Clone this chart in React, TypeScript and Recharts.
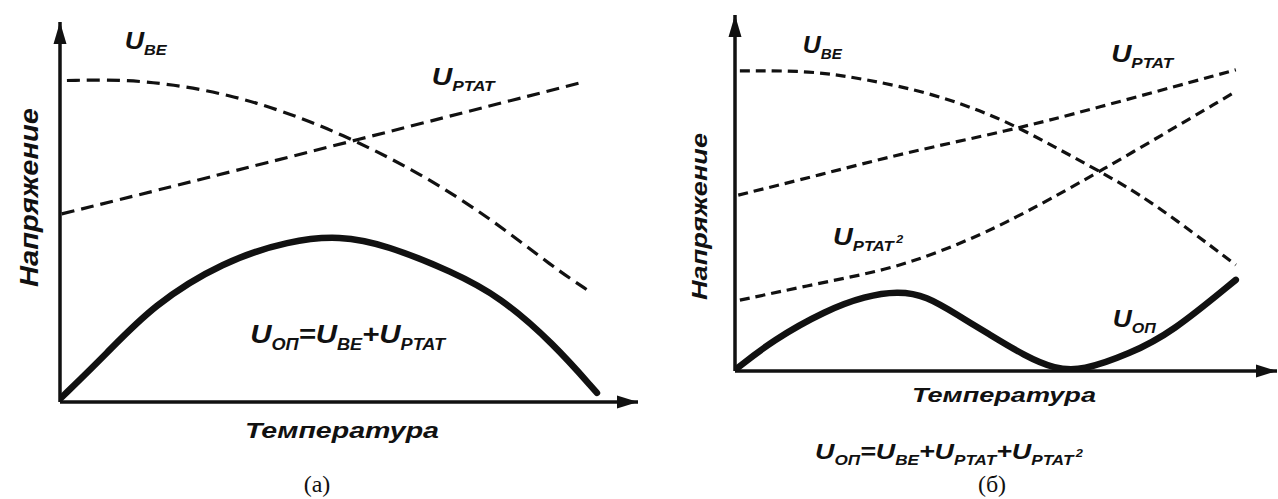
import React from "react"
import { LineChart, Line, XAxis, YAxis, ReferenceDot } from "recharts"

// Both plots use arbitrary units: temperature 0..100 across, voltage 0..100 up.
const tempTicks = [16.5, 36, 56, 75.5]
const voltTicks = [13.2, 41.3, 68.5]

// (a) first-order compensation
const ubeA = [[1.2, 84.6], [10.4, 84.9], [19.6, 83.6], [29.4, 80.8], [38.1, 76.8], [48.4, 70.8], [62.3, 60.3], [74.9, 47.9], [85.3, 35.5], [91.7, 29.0]]
const ptatA = [[0.3, 49.5], [31.1, 61.1], [90.8, 84.3]]
const uopA = [[0, 0.8], [8.1, 12.8], [16.1, 25.5], [28.2, 37], [39.8, 42.5], [48.4, 43.8], [56.5, 41.3], [68, 34.2], [76.1, 27.7], [85.3, 15.5], [92.9, 2.4]]

// (б) second-order compensation
const ubeB = [[0.9, 84.3], [14, 84.4], [24.3, 81.9], [36.5, 78], [48.9, 71.1], [57.7, 64], [66.8, 56.5], [76.6, 48], [92.4, 29.8]]
const ptatB = [[0.6, 49.4], [15.7, 55.1], [31, 61.2], [50.5, 67.5], [65.3, 73.3], [92.4, 84.6]]
const ptat2B = [[0.9, 19.9], [15.7, 24.7], [28, 28.4], [37.2, 33.1], [48.9, 40.5], [66.8, 55.5], [92.4, 78.5]]
const uopB = [[0, 0.3], [7, 8.7], [16.9, 17.1], [24, 21], [30, 22.4], [35.2, 21.2], [41.5, 15.3], [46.5, 10.7], [53.5, 4.2], [59, 0.6], [64, 0], [72.9, 4.9], [80.4, 10.6], [92.4, 25.6]]

const toPoints = (arr: number[][]) => arr.map(([t, u]) => ({ t, u }))

type Piece = { t: string; sub?: string; sup?: string }
const lblUbe: Piece[] = [{ t: "U", sub: "BE" }]
const lblPtat: Piece[] = [{ t: "U", sub: "PTAT" }]
const lblPtat2: Piece[] = [{ t: "U", sub: "PTAT", sup: "2" }]
const lblUop: Piece[] = [{ t: "U", sub: "ОП" }]
const sumA: Piece[] = [{ t: "U", sub: "ОП" }, { t: "=U", sub: "BE" }, { t: "+U", sub: "PTAT" }]
const sumB: Piece[] = [...sumA, { t: "+U", sub: "PTAT", sup: "2" }]

const SANS = "'Liberation Sans', Arial, Helvetica, sans-serif"
const SERIF = "'Liberation Serif', 'Times New Roman', serif"
const INK = "#111"

// U with subscripts, stretched to a given width
function MathText({ x, y, pieces, size, subSize, width }: any) {
  const drop = Math.round(subSize * 0.45)
  let off = 0
  const spans: React.ReactNode[] = []
  pieces.forEach((p: Piece, i: number) => {
    spans.push(<tspan key={`m${i}`} dy={-off} fontSize={size}>{p.t}</tspan>)
    off = 0
    if (p.sub) {
      spans.push(<tspan key={`s${i}`} dy={drop} fontSize={subSize}>{p.sub}</tspan>)
      off = drop
    }
    if (p.sup) {
      const rise = Math.round(subSize * 0.6)
      spans.push(<tspan key={`p${i}`} dy={-rise} dx={2} fontSize={subSize * 0.75}>{p.sup}</tspan>)
      off -= rise
    }
  })
  return (
    <text x={x} y={y} fontFamily={SANS} fontStyle="italic" fontWeight={700} fill={INK}
      textLength={width} lengthAdjust="spacingAndGlyphs">
      {spans}
    </text>
  )
}

const tag = (t: number, u: number, pieces: Piece[], width: number, size = 23, subSize = 14) => (
  <ReferenceDot key={`${t}-${u}`} x={t} y={u} r={0} ifOverflow="visible"
    shape={(p: any) => <MathText x={p.cx} y={p.cy} pieces={pieces} size={size} subSize={subSize} width={width} />} />
)

const axes = () => [
  <XAxis key="x" type="number" dataKey="t" domain={[0, 100]} ticks={tempTicks} allowDataOverflow
    mirror tick={false} tickSize={6} axisLine={{ stroke: INK, strokeWidth: 3.5 }} tickLine={{ stroke: INK, strokeWidth: 2 }} />,
  <YAxis key="y" type="number" dataKey="u" domain={[0, 100]} ticks={voltTicks} allowDataOverflow
    mirror tick={false} tickSize={5} axisLine={{ stroke: INK, strokeWidth: 3.5 }} tickLine={{ stroke: INK, strokeWidth: 2 }} />,
  <ReferenceDot key="ax" x={100} y={0} r={0} ifOverflow="visible"
    shape={(p: any) => <polygon points={`${p.cx},${p.cy} ${p.cx - 21},${p.cy - 6.5} ${p.cx - 21},${p.cy + 6.5}`} fill={INK} />} />,
  <ReferenceDot key="ay" x={0} y={100} r={0} ifOverflow="visible"
    shape={(p: any) => <polygon points={`${p.cx},${p.cy} ${p.cx - 6.5},${p.cy + 22} ${p.cx + 6.5},${p.cy + 22}`} fill={INK} />} />,
]

const dashed = (key: string, data: number[][], dash: string) => (
  <Line key={key} data={toPoints(data)} dataKey="u" type="basis" stroke={INK} strokeWidth={3.2}
    strokeDasharray={dash} dot={false} activeDot={false} isAnimationActive={false} />
)
const solid = (key: string, data: number[][]) => (
  <Line key={key} data={toPoints(data)} dataKey="u" type="basis" stroke={INK} strokeWidth={6.5}
    strokeLinecap="round" dot={false} activeDot={false} isAnimationActive={false} />
)

export default function App() {
  return (
    <div style={{ position: "absolute", left: 0, top: 0, width: 1278, height: 499, background: "#fff", overflow: "hidden" }}>
      <div style={{ position: "absolute", left: 0, top: 0 }}>
        <LineChart width={660} height={499} margin={{ top: 22, left: 60, right: 22, bottom: 97 }}>
          {axes()}
          {dashed("ube", ubeA, "13 7")}
          {dashed("ptat", ptatA, "13 7")}
          {solid("uop", uopA)}
          {tag(11.2, 93, lblUbe, 42)}
          {tag(64.3, 83.4, lblPtat, 63)}
          {tag(32.9, 15.5, sumA, 195, 26, 16)}
        </LineChart>
      </div>
      <div style={{ position: "absolute", left: 640, top: 0 }}>
        <LineChart width={638} height={499} margin={{ top: 15, left: 95, right: 1, bottom: 128 }}>
          {axes()}
          {dashed("ube", ubeB, "10 6")}
          {dashed("ptat", ptatB, "10 6")}
          {dashed("ptat2", ptat2B, "10 6")}
          {solid("uop", uopB)}
          {tag(12.5, 89.2, lblUbe, 39)}
          {tag(69.4, 86.9, lblPtat, 62)}
          {tag(18.1, 35.4, lblPtat2, 70)}
          {tag(69.7, 12.4, lblUop, 43)}
        </LineChart>
      </div>
      <svg width={1278} height={499} style={{ position: "absolute", left: 0, top: 0, pointerEvents: "none" }}>
        <g fontFamily={SANS} fontStyle="italic" fontWeight={700} fill={INK}>
          <text x={245} y={438} fontSize={22} textLength={194} lengthAdjust="spacingAndGlyphs">Температура</text>
          <text x={912} y={402} fontSize={21} textLength={184} lengthAdjust="spacingAndGlyphs">Температура</text>
          <text transform="translate(38,287) rotate(-90)" fontSize={25} textLength={179} lengthAdjust="spacingAndGlyphs">Напряжение</text>
          <text transform="translate(707,300) rotate(-90)" fontSize={22} textLength={167} lengthAdjust="spacingAndGlyphs">Напряжение</text>
        </g>
        <MathText x={815} y={459} pieces={sumB} size={22} subSize={14} width={268} />
        <g fontFamily={SERIF} fontSize={24} fill={INK} textAnchor="middle">
          <text x={317} y={492}>(a)</text>
          <text x={992} y={492}>(б)</text>
        </g>
      </svg>
    </div>
  )
}
